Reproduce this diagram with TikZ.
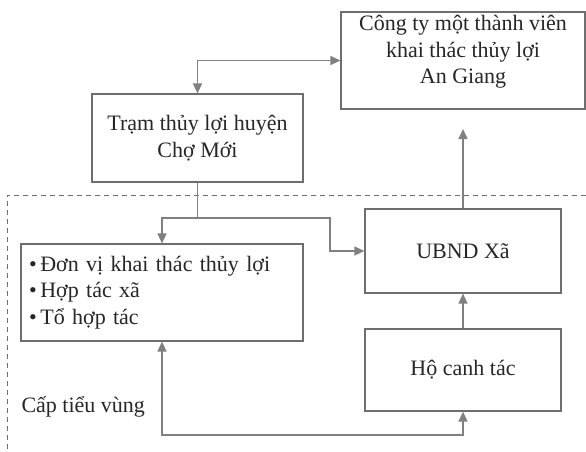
\documentclass[tikz,border=0pt]{standalone}
\usepackage{fontspec}
\setmainfont{Liberation Serif}
\usepackage{xcolor}
\usepackage{tikz}
\usetikzlibrary{arrows.meta}
\usetikzlibrary{positioning}
\definecolor{lineGray}{HTML}{808080}
\definecolor{boxGray}{HTML}{6E6E6E}
\definecolor{textGray}{HTML}{262626}
\tikzset{
  OrgBox/.style={
    rectangle, draw=boxGray, line width=1.2pt,
    text=textGray, align=center,
    font=\fontsize{22}{26.5}\selectfont,
  },
  OrgLink/.style={
    draw=lineGray, line width=1.4pt,
    >={Triangle[length=10pt,width=9pt]},
  },
}
\begin{document}
\begin{tikzpicture}[x=1pt,y=-1pt]
\useasboundingbox (0,0) rectangle (586,451);
\node[OrgBox, minimum width=244pt, minimum height=97pt] (CTY) at (463,60.5) {};
\node[OrgBox, draw=none, below=0pt of CTY.north] (CTYtext) {Công ty một thành viên\\khai thác thủy lợi\\An Giang};
\node[OrgBox, minimum width=211pt, minimum height=88pt] (TRAM) at (197.5,138) {Trạm thủy lợi huyện\\Chợ Mới};
\node[OrgBox, minimum width=282pt, minimum height=97pt, text width=266pt, align=left, inner xsep=8pt] (DV) at (162,292.5) {\textbullet\,Đơn vị khai thác thủy lợi\\\textbullet\,Hợp tác xã\\\textbullet\,Tổ hợp tác};
\node[OrgBox, minimum width=196pt, minimum height=84pt] (UBND) at (463,251) {UBND Xã};
\node[OrgBox, minimum width=196pt, minimum height=82pt] (HO) at (463,370) {Hộ canh tác};
\node[text=textGray, anchor=west, font=\fontsize{22}{26.5}\selectfont] (CAP) at (18,407) {Cấp tiểu vùng};
\draw[draw=boxGray, line width=1pt, dash pattern=on 5pt off 4pt] (586,195) -- (7,195) -- (7,450);
\coordinate (CTYtip) at (463,129);
\coordinate (SPLIT) at (197.5,218);
\coordinate (BEND) at (330,218);
\coordinate (LOW) at (162,435);
\draw[OrgLink, <->] (TRAM.north) |- (CTY.west);
\draw[OrgLink, ->] (UBND.north) -- (CTYtip);
\draw[OrgLink] (TRAM.south) -- (SPLIT);
\draw[OrgLink, ->] (SPLIT) -| (DV.north);
\draw[OrgLink, ->] (SPLIT) -- (BEND) |- (UBND.west);
\draw[OrgLink, ->] (HO.north) -- (UBND.south);
\draw[OrgLink, <->] (DV.south) -- (LOW) -| (HO.south);
\end{tikzpicture}
\end{document}
